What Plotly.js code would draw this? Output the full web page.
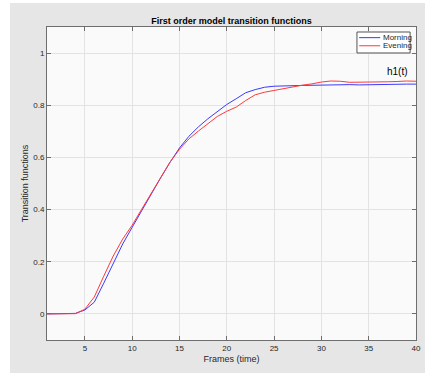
<!DOCTYPE html>
<html>
<head>
<meta charset="utf-8">
<script src="https://cdn.plot.ly/plotly-3.0.1.min.js"></script>
<style>
  html, body { margin: 0; padding: 0; background: #ffffff; }
  #chart { position: absolute; left: 10px; top: 3px; width: 415px; height: 370px; }
</style>
</head>
<body>
<div id="chart"></div>
<script>
// Frame index (time) and the two first-order transition functions
const frames = [1,2,3,4,5,6,7,8,9,10,11,12,13,14,15,16,17,18,19,20,
                21,22,23,24,25,26,27,28,29,30,31,32,33,34,35,36,37,38,39,40];
const morning = [0,0,0,0.002,0.015,0.045,0.118,0.195,0.268,0.332,
                 0.396,0.459,0.521,0.581,0.636,0.681,0.717,0.748,0.777,0.803,
                 0.825,0.848,0.860,0.869,0.873,0.875,0.875,0.876,0.877,0.878,
                 0.879,0.879,0.879,0.878,0.879,0.880,0.880,0.880,0.881,0.881];
const evening = [0,0,0,0.001,0.018,0.065,0.145,0.222,0.287,0.340,
                 0.401,0.463,0.524,0.582,0.631,0.671,0.701,0.729,0.757,0.777,
                 0.793,0.818,0.840,0.850,0.857,0.864,0.869,0.877,0.882,0.889,
                 0.893,0.892,0.888,0.888,0.888,0.889,0.890,0.891,0.893,0.892];
const seriesNames = ['Morning', 'Evening'];
const seriesColors = ['#3a3aff', '#ff3a3a'];
const xTicks = [5,10,15,20,25,30,35,40];
const yTicks = [0,0.2,0.4,0.6,0.8,1];
const yTickText = ['0','0.2','0.4','0.6','0.8','1'];

const font = 'Liberation Sans, Arial, sans-serif';
const axisCommon = {
  showline: true, linecolor: '#6e6e6e', linewidth: 1, mirror: 'ticks',
  ticks: 'inside', ticklen: 4, tickcolor: '#6e6e6e',
  showgrid: true, gridcolor: '#e3e3e3', gridwidth: 1,
  zeroline: false,
  tickfont: { family: font, size: 8, color: '#262626' }
};

const traces = [
  { x: frames, y: morning, name: seriesNames[0], type: 'scatter', mode: 'lines',
    line: { color: seriesColors[0], width: 1 } },
  { x: frames, y: evening, name: seriesNames[1], type: 'scatter', mode: 'lines',
    line: { color: seriesColors[1], width: 1 } }
];

// Compact boxed legend in the top-right corner of the axes
const legBox = { x0: 0.840, x1: 0.984, y0: 0.917, y1: 0.984 };
const legRows = [0.966, 0.940];
const shapes = [
  { type: 'rect', xref: 'paper', yref: 'paper', x0: legBox.x0, x1: legBox.x1, y0: legBox.y0, y1: legBox.y1,
    fillcolor: '#ffffff', line: { color: '#555', width: 1 }, layer: 'above' }
];
const annotations = [
  { x: 38, y: 0.93, xref: 'x', yref: 'y', text: 'h1(t)', showarrow: false,
    font: { family: font, size: 10, color: '#000' } }
];
seriesNames.forEach((name, i) => {
  shapes.push({ type: 'line', xref: 'paper', yref: 'paper', x0: 0.846, x1: 0.903,
    y0: legRows[i], y1: legRows[i], line: { color: seriesColors[i], width: 1 }, layer: 'above' });
  annotations.push({ xref: 'paper', yref: 'paper', x: 0.906, y: legRows[i], xanchor: 'left',
    yanchor: 'middle', text: name, showarrow: false,
    font: { family: font, size: 8, color: '#262626' } });
});

const layout = {
  width: 415, height: 370,
  margin: { l: 37, r: 9, t: 24, b: 33 },
  paper_bgcolor: '#e6e6e6',
  plot_bgcolor: '#fafafa',
  showlegend: false,
  title: { text: '<b>First order model transition functions</b>',
           font: { family: font, size: 9, color: '#000' },
           x: 0.5, xref: 'paper', y: 1, yref: 'paper', yanchor: 'bottom', pad: { b: 3 } },
  xaxis: Object.assign({}, axisCommon, {
    range: [1, 40], tickvals: xTicks,
    title: { text: 'Frames (time)', font: { family: font, size: 9, color: '#262626' }, standoff: 4 }
  }),
  yaxis: Object.assign({}, axisCommon, {
    range: [-0.1, 1.1], tickvals: yTicks, ticktext: yTickText,
    title: { text: 'Transition functions', font: { family: font, size: 9, color: '#262626' }, standoff: 3 }
  }),
  shapes: shapes,
  annotations: annotations
};

Plotly.newPlot('chart', traces, layout, { displayModeBar: false, staticPlot: true });
</script>
</body>
</html>
